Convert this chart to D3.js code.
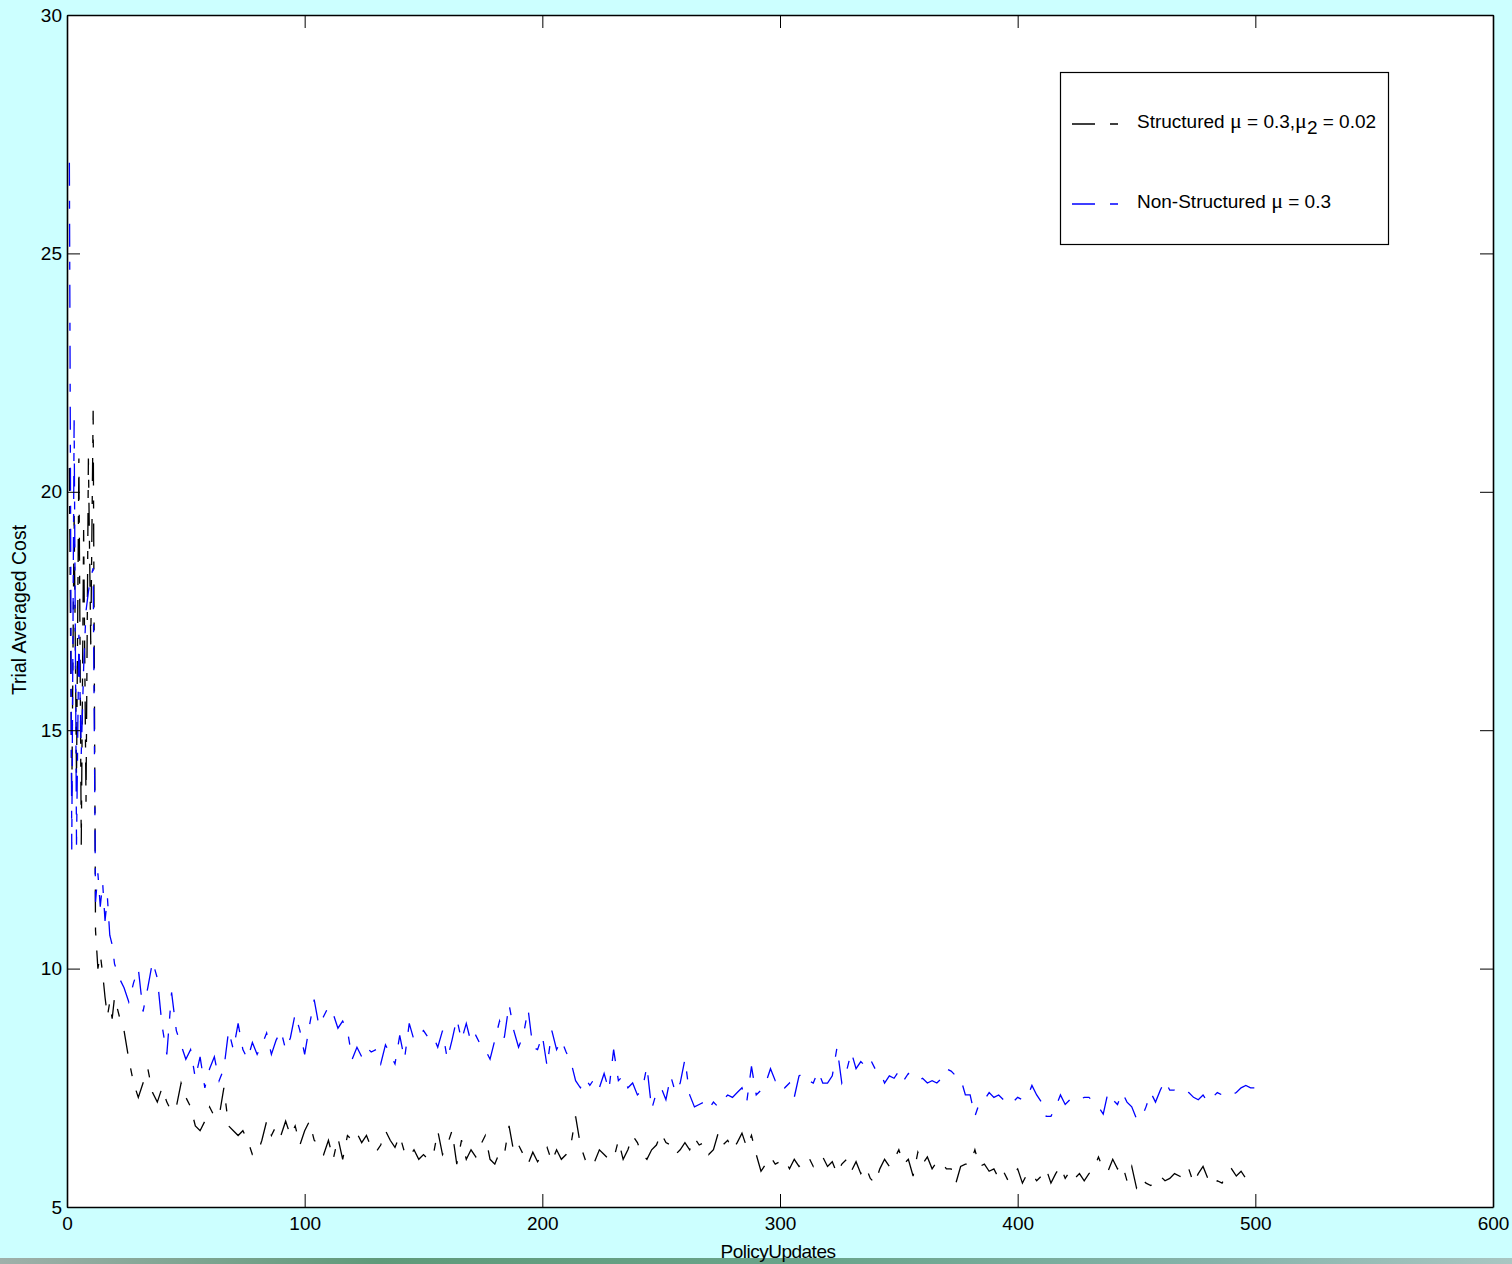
<!DOCTYPE html>
<html>
<head>
<meta charset="utf-8">
<script src="https://cdn.jsdelivr.net/npm/d3@7"></script>
<style>
  html, body { margin: 0; padding: 0; background: #ccffff; }
  svg { display: block; }
  text { font-family: "Liberation Sans", Arial, sans-serif; fill: #000; }
</style>
</head>
<body>
<svg id="chart" width="1512" height="1264"></svg>
<script>
// Policy update index of each sample: every update early on, every second one afterwards
const updates = d3.range(1, 21).concat(d3.range(22, 501, 2));

// Trial averaged cost, structured policy (mu = 0.3, mu2 = 0.02)
const structuredCost = [
  20.5, 13.5, 19.5, 14.0, 20.7, 12.6, 19.2, 13.5, 20.7, 16.8,
  21.7, 10.8, 10.0, 10.3, 9.9, 9.4, 9.0, 9.3, 8.95, 9.4,
  9.0, 8.7, 8.1, 7.6, 7.3, 7.6, 7.9, 7.4, 7.2, 7.5,
  7.2, 7.0, 7.1, 7.6, 7.3, 7.1, 6.7, 6.6, 6.8, 7.1,
  6.9, 6.9, 7.5, 6.7, 6.6, 6.5, 6.6, 6.4, 6.1, 6.1,
  6.4, 6.8, 6.5, 6.7, 6.5, 6.8, 6.5, 6.7, 6.3, 6.6,
  6.8, 6.4, 6.3, 6.1, 6.4, 6.0, 6.45, 6.0, 6.5, 6.4,
  6.55, 6.35, 6.5, 6.25, 6.15, 6.3, 6.6, 6.4, 6.25, 6.5,
  6.15, 6.05, 6.2, 6.0, 6.1, 6.0, 6.05, 6.6, 6.1, 6.3,
  6.6, 5.9, 6.4, 6.0, 6.2, 6.05, 6.3, 6.5, 6.0, 5.9,
  6.15, 6.1, 6.7, 6.15, 6.3, 6.1, 5.9, 6.15, 5.95, 6.1,
  6.25, 5.95, 6.2, 6.0, 6.1, 6.3, 6.9, 6.3, 6.0, 6.1,
  5.95, 6.2, 6.1, 6.0, 6.0, 6.4, 6.0, 6.2, 6.5, 6.35,
  6.1, 6.0, 6.2, 6.3, 6.55, 6.35, 6.3, 6.1, 6.2, 6.35,
  6.2, 6.45, 6.3, 6.35, 6.1, 6.2, 6.55, 6.3, 6.4, 6.2,
  6.35, 6.55, 6.25, 6.5, 6.1, 5.75, 5.9, 6.05, 5.9, 5.95,
  6.0, 5.8, 6.0, 5.85, 5.95, 6.05, 5.85, 6.0, 6.05, 5.85,
  5.95, 5.7, 5.9, 6.0, 5.75, 5.95, 5.7, 5.85, 5.6, 5.5,
  5.8, 6.0, 5.85, 6.0, 6.2, 5.9, 6.0, 5.65, 6.15, 5.9,
  6.05, 5.8, 5.95, 5.95, 5.8, 5.8, 5.5, 5.85, 5.9, 5.9,
  6.2, 5.85, 5.9, 5.75, 5.8, 5.6, 5.75, 5.55, 5.7, 5.8,
  5.5, 5.7, 5.7, 5.55, 5.65, 5.8, 5.5, 5.7, 5.85, 5.6,
  5.75, 5.6, 5.7, 5.55, 5.7, 5.8, 6.05, 5.8, 5.75, 6.0,
  5.8, 5.9, 5.55, 5.85, 5.4, 5.6, 5.5, 5.45, 5.55, 5.65,
  5.55, 5.6, 5.7, 5.65, 5.6, 5.8, 5.5, 5.7, 5.85, 5.6,
  5.45, 5.55, 5.5, 5.7, 5.8, 5.65, 5.75, 5.6, 5.55, 5.5
];

// Trial averaged cost, non-structured policy (mu = 0.3)
const nonStructuredCost = [
  26.9, 12.5, 21.5, 12.6, 17.0, 14.5, 16.3, 17.5, 17.9, 18.2,
  18.4, 11.4, 12.0, 11.3, 11.8, 11.0, 11.5, 10.7, 10.5, 10.1,
  9.8, 9.6, 9.3, 9.7, 10.0, 9.1, 9.6, 10.15, 9.8, 8.8,
  8.2, 9.5, 8.7, 8.4, 8.1, 8.3, 7.7, 8.15, 7.5, 7.9,
  8.15, 7.65, 7.9, 8.7, 8.3, 8.85, 8.3, 8.1, 8.45, 8.2,
  8.4, 8.65, 8.2, 8.5, 8.7, 8.3, 8.55, 9.05, 8.7, 8.2,
  8.8, 9.35, 8.8, 9.0, 9.2, 9.05, 8.75, 8.9, 8.7, 8.1,
  8.35, 8.15, 8.35, 8.25, 8.3, 8.0, 8.4, 8.2, 8.0, 8.6,
  8.1, 8.85, 8.5, 8.6, 8.7, 8.55, 8.6, 8.35, 8.7, 8.1,
  8.5, 8.95, 8.5, 8.85, 8.45, 8.6, 8.4, 8.3, 8.1, 8.5,
  8.9, 8.55, 9.25, 8.7, 8.35, 8.6, 9.15, 8.35, 8.3, 8.6,
  7.95, 8.7, 8.3, 8.5, 8.25, 8.05, 7.65, 7.5, 7.7, 7.55,
  7.7, 7.5, 7.8, 7.45, 8.3, 7.65, 7.75, 7.5, 7.6, 7.35,
  7.45, 7.95, 7.05, 7.4, 7.5, 7.25, 7.75, 7.4, 7.6, 8.1,
  7.35, 7.1, 7.15, 7.2, 7.05, 7.2, 7.1, 7.25, 7.35, 7.3,
  7.4, 7.5, 7.2, 7.95, 7.35, 7.45, 7.6, 7.9, 7.65, 7.7,
  7.5, 7.6, 7.3, 7.75, 7.8, 7.65, 7.6, 7.85, 7.6, 7.6,
  7.75, 8.35, 7.6, 7.85, 8.25, 7.9, 8.05, 7.95, 8.1, 7.9,
  7.85, 7.6, 7.75, 7.7, 7.85, 7.65, 7.8, 7.7, 7.65, 7.7,
  7.6, 7.65, 7.6, 7.7, 7.9, 7.85, 7.75, 7.7, 7.35, 7.35,
  6.9, 7.2, 7.25, 7.4, 7.3, 7.35, 7.25, 7.3, 7.2, 7.3,
  7.25, 7.3, 7.55, 7.35, 7.2, 6.9, 6.9, 7.1, 7.35, 7.15,
  7.25, 7.2, 7.25, 7.3, 7.3, 7.2, 7.1, 6.95, 7.4, 7.25,
  7.15, 7.4, 7.2, 7.1, 6.85, 6.85, 7.1, 7.4, 7.2, 7.45,
  7.65, 7.45, 7.45, 7.4, 7.45, 7.4, 7.3, 7.25, 7.35, 7.2,
  7.3, 7.4, 7.35, 7.4, 7.35, 7.4, 7.5, 7.55, 7.5, 7.5
];

const xTicks = [0, 100, 200, 300, 400, 500, 600];
const yTicks = [5, 10, 15, 20, 25, 30];

const seriesNames = ["Structured", "Non-Structured"];
const seriesColors = ["#000000", "#0000ff"];

const svg = d3.select("#chart");
const W = 1512, H = 1264;
const plot = { left: 67, right: 1493, top: 15, bottom: 1207 };

// page background and the thin strip along the bottom edge
svg.append("rect").attr("width", W).attr("height", H).attr("fill", "#ccffff");
const grad = svg.append("defs").append("linearGradient").attr("id", "strip");
[["0%", "#9fb0aa"], ["25%", "#5f9a7a"], ["55%", "#6aa58c"], ["80%", "#86b3aa"], ["100%", "#a9c6c2"]]
  .forEach(([o, c]) => grad.append("stop").attr("offset", o).attr("stop-color", c));
svg.append("rect").attr("x", 0).attr("y", 1258).attr("width", W).attr("height", 6).attr("fill", "url(#strip)");

const x = d3.scaleLinear().domain([0, 600]).range([plot.left, plot.right]);
const y = d3.scaleLinear().domain([5, 30]).range([plot.bottom, plot.top]);

// white axes area
svg.append("rect")
  .attr("x", plot.left).attr("y", plot.top)
  .attr("width", plot.right - plot.left).attr("height", plot.bottom - plot.top)
  .attr("fill", "#ffffff");

// dash-dot series lines
const dash = "23,15,8,15";
const line = d3.line().x((d, i) => x(updates[i])).y(d => y(d));
[structuredCost, nonStructuredCost].forEach((vals, k) => {
  svg.append("path")
    .datum(vals)
    .attr("d", line)
    .attr("fill", "none")
    .attr("stroke", seriesColors[k])
    .attr("stroke-width", 1.3)
    .attr("stroke-dasharray", dash)
    .attr("stroke-linejoin", "miter");
});

// axes with inward ticks on all four sides
const tickLen = 13;
function styleAxis(g) {
  g.selectAll(".domain").attr("stroke", "#000").attr("stroke-width", 1.6);
  g.selectAll(".tick line").attr("stroke", "#000").attr("stroke-width", 1);
  g.selectAll("text").attr("font-size", 19).attr("font-family", "Liberation Sans, Arial, sans-serif").attr("fill", "#000");
}
svg.append("g").attr("transform", `translate(0,${plot.bottom})`)
  .call(d3.axisBottom(x).tickValues(xTicks).tickSizeInner(-tickLen).tickSizeOuter(0).tickPadding(10))
  .call(styleAxis);
svg.append("g").attr("transform", `translate(0,${plot.top})`)
  .call(d3.axisTop(x).tickValues(xTicks).tickSizeInner(-tickLen).tickSizeOuter(0).tickFormat(""))
  .call(styleAxis);
svg.append("g").attr("transform", `translate(${plot.left},0)`)
  .call(d3.axisLeft(y).tickValues(yTicks).tickSizeInner(-tickLen).tickSizeOuter(0).tickPadding(5))
  .call(styleAxis);
svg.append("g").attr("transform", `translate(${plot.right},0)`)
  .call(d3.axisRight(y).tickValues(yTicks).tickSizeInner(-tickLen).tickSizeOuter(0).tickFormat(""))
  .call(styleAxis);

// axis titles
svg.append("text")
  .attr("x", 778).attr("y", 1258)
  .attr("text-anchor", "middle").attr("font-size", 19)
  .attr("letter-spacing", "-0.5")
  .text("PolicyUpdates");
svg.append("text")
  .attr("transform", "translate(26,610) rotate(-90)")
  .attr("text-anchor", "middle").attr("font-size", 19.5)
  .text("Trial Averaged Cost");

// legend
const lg = svg.append("g");
lg.append("rect")
  .attr("x", 1060.5).attr("y", 72.5).attr("width", 328).attr("height", 172)
  .attr("fill", "#ffffff").attr("stroke", "#000").attr("stroke-width", 1.2);
const legendRows = [
  { y: 124, parts: [["Structured ", "sans"], ["μ", "serif"], [" = 0.3,", "sans"], ["μ", "serif"], ["2", "sub"], [" = 0.02", "sans"]] },
  { y: 204, parts: [["Non-Structured ", "sans"], ["μ", "serif"], [" = 0.3", "sans"]] }
];
legendRows.forEach((row, k) => {
  lg.append("line")
    .attr("x1", 1072).attr("x2", 1118).attr("y1", row.y).attr("y2", row.y)
    .attr("stroke", seriesColors[k]).attr("stroke-width", 1.3)
    .attr("stroke-dasharray", dash);
  const t = lg.append("text").attr("x", 1137).attr("y", row.y + 4).attr("font-size", 19);
  let shifted = false;
  row.parts.forEach(([s, kind]) => {
    const ts = t.append("tspan").text(s);
    if (kind === "serif") ts.attr("font-family", "Liberation Serif, Times New Roman, serif").attr("font-size", 22);
    if (kind === "sub") { ts.attr("dy", 6); shifted = true; }
    else if (shifted) { ts.attr("dy", -6); shifted = false; }
  });
});
</script>
</body>
</html>
